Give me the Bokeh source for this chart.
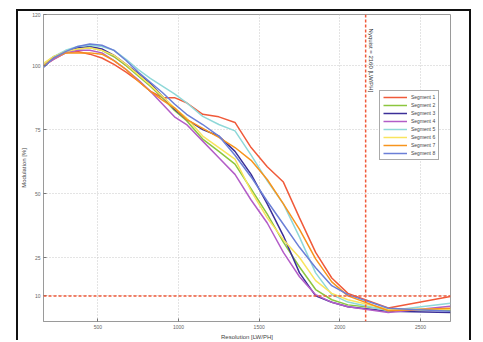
from bokeh.plotting import figure
from bokeh.models import Range1d, FixedTicker, Span, Legend, LegendItem, Label
from bokeh.embed import file_html
from bokeh.resources import INLINE

# ---- data ----
resolution = [165, 225, 300, 375, 450, 525, 600, 675, 750, 825, 900, 975, 1050,
              1150, 1250, 1350, 1450, 1550, 1650, 1750, 1850, 1950, 2050, 2300, 2685]

seg1 = [100.0, 102.5, 105.0, 105.5, 104.5, 103.0, 100.5, 97.5, 94.0, 90.0, 87.5, 87.5, 85.5,
        81.0, 80.0, 77.8, 68.0, 60.5, 54.5, 40.5, 27.0, 17.0, 11.0, 5.3, 9.8]
seg2 = [100.5, 103.5, 105.5, 106.5, 107.0, 106.0, 103.5, 100.0, 96.0, 92.0, 87.5, 82.5, 78.5,
        71.3, 66.5, 61.5, 51.8, 42.0, 31.0, 21.3, 12.5, 8.5, 6.5, 4.8, 4.4]
seg3 = [99.5, 103.0, 105.5, 107.0, 107.5, 106.5, 104.0, 100.5, 97.0, 93.0, 88.0, 83.0, 79.0,
        75.0, 72.5, 66.5, 57.5, 46.0, 33.5, 19.0, 10.0, 7.5, 5.8, 4.0, 3.5]
seg4 = [100.0, 102.5, 105.0, 106.0, 106.0, 105.0, 102.0, 98.5, 94.5, 90.0, 85.0, 80.0, 77.0,
        70.5, 64.0, 57.5, 47.5, 38.5, 27.0, 17.5, 10.5, 7.5, 5.8, 3.5, 6.0]
seg5 = [100.5, 103.5, 106.0, 107.5, 108.0, 107.5, 106.0, 102.5, 98.5, 95.0, 92.0, 89.0, 85.5,
        80.2, 77.0, 74.5, 65.0, 55.0, 46.0, 33.0, 19.0, 10.5, 7.6, 4.2, 7.1]
seg6 = [101.0, 103.5, 105.5, 106.5, 107.0, 106.0, 104.0, 100.5, 96.5, 92.5, 88.0, 83.5, 79.5,
        72.5, 68.0, 63.5, 51.0, 40.5, 32.0, 25.0, 16.0, 11.0, 8.5, 4.8, 4.8]
seg7 = [100.0, 103.0, 105.0, 105.0, 105.0, 104.5, 102.0, 98.5, 94.0, 90.0, 86.5, 83.5, 79.0,
        75.5, 72.0, 68.0, 63.0, 55.5, 46.0, 36.0, 24.5, 15.5, 10.0, 4.2, 5.2]
seg8 = [99.5, 103.0, 105.5, 107.5, 108.5, 108.0, 106.0, 102.0, 97.5, 93.5, 89.5, 85.0, 81.0,
        77.0, 72.5, 65.0, 56.5, 47.0, 38.0, 29.0, 21.0, 14.0, 10.5, 5.2, 4.0]

series = [seg1, seg2, seg3, seg4, seg5, seg6, seg7, seg8]
names = ["Segment 1", "Segment 2", "Segment 3", "Segment 4",
         "Segment 5", "Segment 6", "Segment 7", "Segment 8"]
colors = ["#f05a3a", "#8cc63e", "#3b2f98", "#b35dc7",
          "#8fd8d8", "#f9e45f", "#f7941d", "#6b7fd7"]

x_ticks = [500, 1000, 1500, 2000, 2500]
y_ticks = [10, 25, 50, 75, 100, 120]
nyquist = 2160
threshold = 10
nyquist_label = "Nyquist = 2160 [LW/PH]"

FONT = "Liberation Sans"

p = figure(width=455, height=331, output_backend="svg", toolbar_location=None,
           x_range=Range1d(163, 2686), y_range=Range1d(0, 120),
           min_border_left=25, min_border_right=23, min_border_top=3, min_border_bottom=16,
           margin=(9, 0, 0, 16))
p.styles = {"border-left": "2px solid #111", "border-top": "2px solid #111",
            "border-right": "2px solid #111"}
p.background_fill_color = "white"
p.border_fill_color = "white"
p.outline_line_color = "#9a9a9a"
p.outline_line_width = 1

for ax in (p.xaxis[0], p.yaxis[0]):
    ax.axis_line_color = "#9a9a9a"
    ax.major_tick_line_color = "#777777"
    ax.major_tick_in = 3
    ax.major_tick_out = 0
    ax.minor_tick_line_color = None
    ax.major_label_text_font = FONT
    ax.major_label_text_font_size = "5px"
    ax.major_label_text_color = "#666666"
    ax.axis_label_text_font = FONT
    ax.axis_label_text_font_size = "6px"
    ax.axis_label_text_font_style = "normal"
    ax.axis_label_text_color = "#444444"
    ax.major_label_standoff = 3
    ax.axis_label_standoff = 2

p.xaxis.ticker = FixedTicker(ticks=x_ticks)
p.yaxis.ticker = FixedTicker(ticks=y_ticks)
p.xaxis.axis_label = "Resolution [LW/PH]"
p.yaxis.axis_label = "Modulation [%]"

p.xgrid.ticker = FixedTicker(ticks=x_ticks)
p.ygrid.ticker = FixedTicker(ticks=y_ticks)
for g in (p.xgrid[0], p.ygrid[0]):
    g.grid_line_color = "#c8c8c8"
    g.grid_line_dash = "1 2"
    g.grid_line_width = 1

items = []
for ys, name, c in zip(series, names, colors):
    r = p.line(resolution, ys, line_color=c, line_width=1.5)
    items.append(LegendItem(label=name, renderers=[r]))

p.add_layout(Span(location=nyquist, dimension="height", line_color="#f05a3a",
                  line_dash="3 2", line_width=1.5))
p.add_layout(Span(location=threshold, dimension="width", line_color="#f05a3a",
                  line_dash="3 2", line_width=1.5))

p.add_layout(Label(x=nyquist, y=114.5, x_offset=2, text=nyquist_label, angle=-1.5708,
                   text_font=FONT, text_font_size="6px", text_color="#333333",
                   text_align="left", text_baseline="bottom"))

legend = Legend(items=items, location=(336, 161))
legend.label_text_font = FONT
legend.label_text_font_size = "5px"
legend.label_text_color = "#444444"
legend.glyph_height = 6
legend.glyph_width = 24
legend.label_height = 6
legend.label_standoff = 4
legend.spacing = 2
legend.padding = 3
legend.margin = 0
legend.border_line_color = "#555555"
legend.border_line_width = 1
legend.background_fill_color = "white"
legend.background_fill_alpha = 1
p.add_layout(legend)

open("out.html", "w").write(file_html(p, INLINE))
